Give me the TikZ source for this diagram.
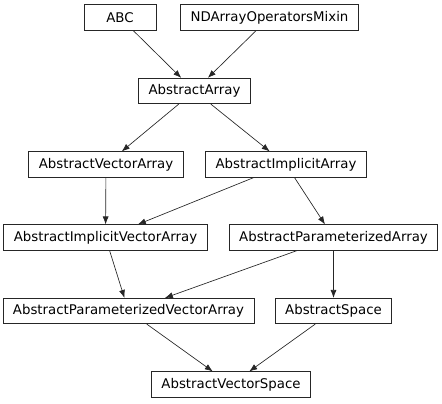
\documentclass[tikz,border=0pt]{standalone}
\usepackage{fontspec}
\setmainfont{DejaVu Sans}
\usetikzlibrary{arrows.meta}
\tikzset{
	cls/.style={draw=black!85, line width=0.6pt, inner xsep=7.5pt, minimum width=54pt, minimum height=19pt, font=\fontsize{10}{12}\selectfont},
	inh/.style={draw=black!85, line width=0.5pt, -{Latex[length=6pt,width=4.5pt]}}
}

\begin{document}
\begin{tikzpicture}[x=0.75pt, y=-0.75pt]
				%%%%% START %%%%%
				\useasboundingbox (0, 0) rectangle (442, 403);
				
				\node[cls] (abc) at (120, 17.5) {ABC};
				\node[cls] (mixin) at (269.5, 17.5) {NDArrayOperatorsMixin};
				
				\node[cls] (array) at (194.5, 91) {AbstractArray};
				
				\node[cls] (vecarray) at (106, 164.5) {AbstractVectorArray};
				\node[cls] (implarray) at (286, 164.5) {AbstractImplicitArray};
				
				\node[cls] (implvecarray) at (105.5, 237.5) {AbstractImplicitVectorArray};
				\node[cls] (paramarray) at (333.5, 237.5) {AbstractParameterizedArray};
				
				\node[cls] (paramvecarray) at (128.5, 311) {AbstractParameterizedVectorArray};
				\node[cls] (space) at (333.5, 311) {AbstractSpace};
				
				\node[cls] (vecspace) at (231, 384.5) {AbstractVectorSpace};
				
				\draw[inh] (abc) -- (array);
				\draw[inh] (mixin) -- (array);
				\draw[inh] (array) -- (vecarray);
				\draw[inh] (array) -- (implarray);
				\draw[inh] (vecarray) -- (implvecarray);
				\draw[inh] (implarray) -- (implvecarray);
				\draw[inh] (implarray) -- (paramarray);
				\draw[inh] (implvecarray) -- (paramvecarray);
				\draw[inh] (paramarray) -- (paramvecarray);
				\draw[inh] (paramarray) -- (space);
				\draw[inh] (paramvecarray) -- (vecspace);
				\draw[inh] (space) -- (vecspace);
				%%%%% END %%%%%
\end{tikzpicture}
\end{document}
